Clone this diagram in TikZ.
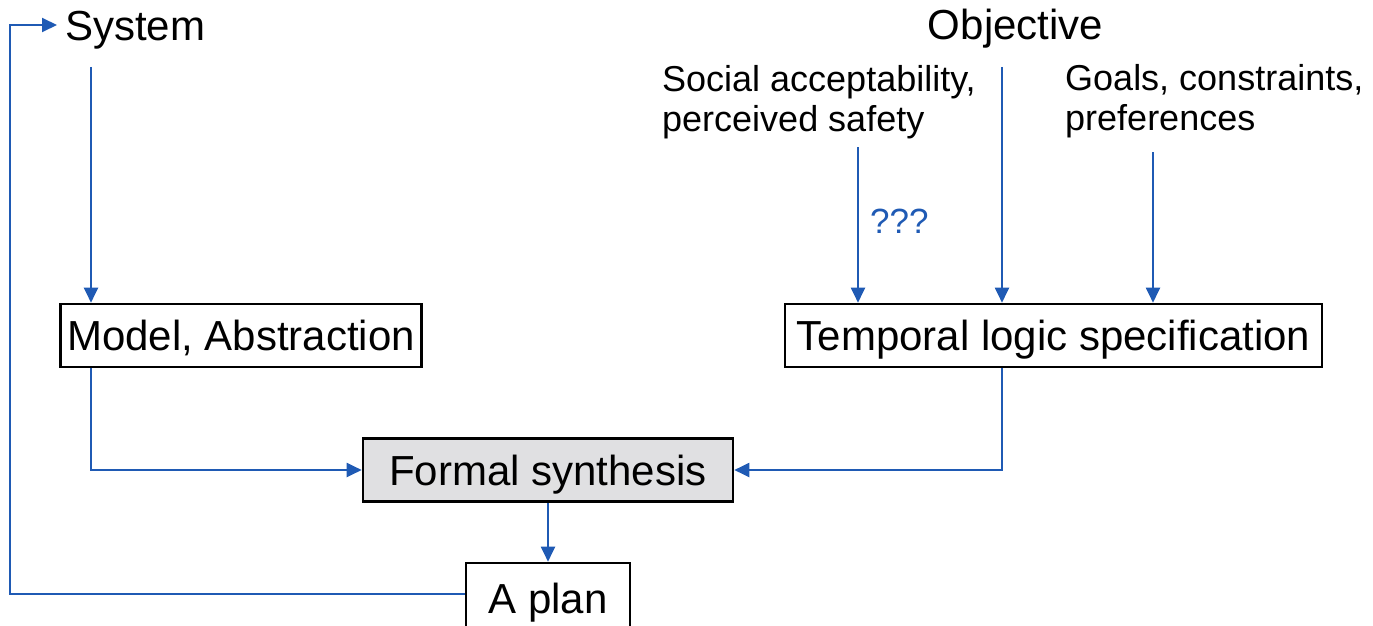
\documentclass[tikz,border=0pt]{standalone}
\usepackage{fontspec}
\setmainfont{Liberation Sans}
\usetikzlibrary{arrows.meta}
\definecolor{linkblue}{RGB}{31,90,180}
\definecolor{boxgray}{RGB}{224,224,226}
\begin{document}
\begin{tikzpicture}[x=1pt,y=-1pt,
  big/.style={font=\fontsize{42}{48}\selectfont, inner sep=0pt, text height=30.1pt, text depth=0pt},
  small/.style={font=\fontsize{36}{40}\selectfont, inner sep=0pt, align=left},
  stagebox/.style={big, draw=black, line width=2.6pt, minimum height=63pt},
  arr/.style={draw=linkblue, line width=2pt, -{Triangle[length=15pt,width=14pt]}},
  link/.style={draw=linkblue, line width=2pt}
]
\useasboundingbox (0,0) rectangle (1373,626);
\clip (0,0) rectangle (1373,626);

% top-level labels
\node[big, anchor=west] (sys) at (65,25) {System};
\node[big] (obj) at (1015.5,24) {Objective};
\node[small, anchor=north west] (soc) at (662,65) {Social acceptability,\\perceived safety};
\node[small, anchor=north west] (goal) at (1065,64) {Goals, constraints,\\preferences};
\node[font=\fontsize{35}{40}\selectfont, text=linkblue, inner sep=0pt, anchor=base west] (qq) at (870,233) {???};

% stage boxes (the plan box runs past the lower edge)
\node[stagebox, minimum width=361pt] (model) at (241,335.5) {Model, Abstraction};
\node[stagebox, minimum width=537pt] (temporal) at (1053.5,335.5) {Temporal logic specification};
\node[stagebox, minimum width=370pt, fill=boxgray] (formal) at (548,470) {Formal synthesis};
\node[stagebox, minimum width=164pt, minimum height=70pt] (plan) at (548,598) {A plan};

% connector start points
\coordinate (sysout) at (91,67);
\coordinate (objout) at (1002,67);
\coordinate (socout) at (858,147);
\coordinate (goalout) at (1153,152);
\coordinate (loopx) at (10,0);

% connectors
\draw[arr] (sysout) -- (sysout |- model.north);
\draw[arr] (objout) -- (objout |- temporal.north);
\draw[arr] (socout) -- (socout |- temporal.north);
\draw[arr] (goalout) -- (goalout |- temporal.north);
\draw[arr] ([xshift=32pt]model.south west) |- (formal.west);
\draw[arr] ([xshift=218pt]temporal.south west) |- (formal.east);
\draw[arr] (formal.south) -- (plan.north);
\draw[arr] ([yshift=4pt]plan.west) -- ([yshift=4pt]plan.west -| loopx) |- ([xshift=-8pt]sys.west);
\end{tikzpicture}
\end{document}
